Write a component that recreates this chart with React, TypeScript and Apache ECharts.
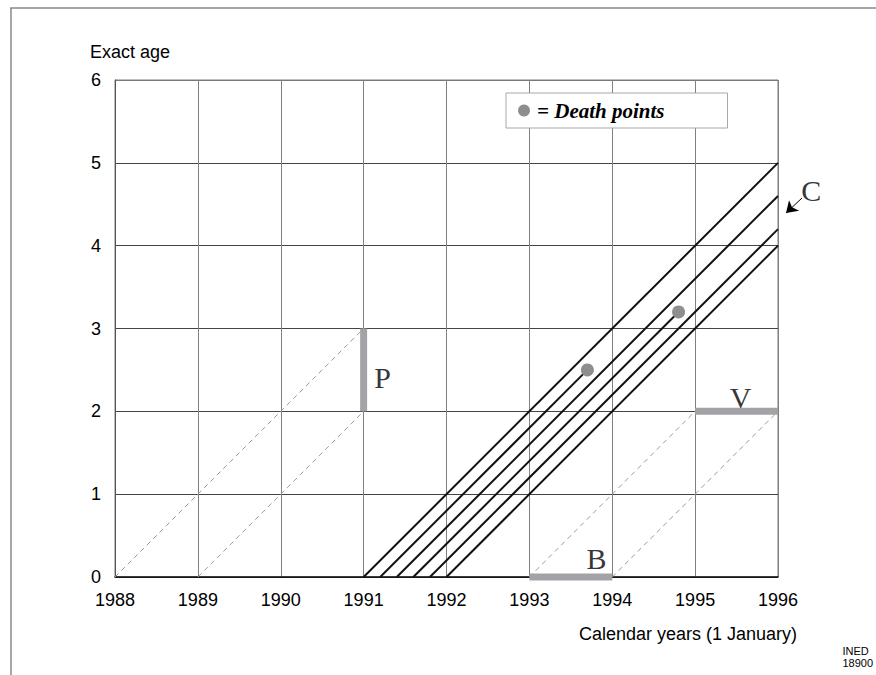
import React, { useEffect, useRef } from "react";
import * as echarts from "echarts";

// ---- data ----
const yearTicks = [1988, 1989, 1990, 1991, 1992, 1993, 1994, 1995, 1996];
const ageTicks = [0, 1, 2, 3, 4, 5, 6];

// cohort life lines: [start year at age 0] -> [end year, end age]
const cohortStarts = [1991, 1991.2, 1991.4, 1991.6, 1991.8, 1992];
const cohortEnds: [number, number][] = [
  [1996, 5],
  [1993.7, 2.5],
  [1996, 4.6],
  [1994.8, 3.2],
  [1996, 4.2],
  [1996, 4],
];
const deathPoints: [number, number][] = [
  [1993.7, 2.5],
  [1994.8, 3.2],
];
// dashed guide lines
const dashedLines: [number, number][][] = [
  [[1988, 0], [1991, 3]],
  [[1989, 0], [1991, 2]],
  [[1993, 0], [1995, 2]],
  [[1994, 0], [1996, 2]],
];
// highlighted segments
const segments: { name: string; pts: [number, number][] }[] = [
  { name: "P", pts: [[1991, 2], [1991, 3]] },
  { name: "B", pts: [[1993, 0], [1994, 0]] },
  { name: "V", pts: [[1995, 2], [1996, 2]] },
];
// letter annotations (data coordinates)
const letterLabels: { name: string; at: [number, number] }[] = [
  { name: "P", at: [1991.228, 2.41] },
  { name: "B", at: [1993.81, 0.22] },
  { name: "V", at: [1995.547, 2.17] },
  { name: "C", at: [1996.4, 4.67] },
];
const arrowC: [number, number][] = [
  [1996.29, 4.576],
  [1996.097, 4.394],
];

const SANS = "Liberation Sans, Arial, Helvetica, sans-serif";
const SERIF = "Liberation Serif, Times New Roman, serif";

export default function App() {
  const ref = useRef<HTMLDivElement>(null);
  useEffect(() => {
    if (!ref.current) return;
    const chart = echarts.init(ref.current, undefined, { renderer: "svg" });

    const series: any[] = [];
    dashedLines.forEach((l, i) => {
      series.push({
        type: "line",
        name: "dash" + i,
        data: l,
        symbol: "none",
        lineStyle: { color: "#9a9a9a", width: 1, type: [5, 4] },
        z: 2,
        silent: true,
      });
    });
    segments.forEach((s) => {
      series.push({
        type: "line",
        name: "seg" + s.name,
        data: s.pts,
        symbol: "none",
        clip: false,
        lineStyle: { color: "#a3a3a7", width: 7, cap: "butt" },
        z: 3,
        silent: true,
      });
    });
    cohortStarts.forEach((s, i) => {
      series.push({
        type: "line",
        name: "cohort" + i,
        data: [[s, 0], cohortEnds[i]],
        symbol: "none",
        lineStyle: { color: "#111", width: 2 },
        z: 4,
        silent: true,
      });
    });
    series.push({
      type: "scatter",
      name: "Death points",
      data: deathPoints,
      symbol: "circle",
      symbolSize: 13,
      itemStyle: { color: "#8e8e90", opacity: 1 },
      z: 5,
      silent: true,
    });
    series.push({
      type: "scatter",
      name: "labels",
      data: letterLabels.map((l) => ({ value: l.at, name: l.name })),
      symbolSize: 1,
      clip: false,
      itemStyle: { color: "rgba(0,0,0,0)" },
      label: {
        show: true,
        position: "inside",
        formatter: "{b}",
        fontFamily: SERIF,
        fontSize: 30,
        color: "#000",
      },
      z: 6,
      silent: true,
    });
    series.push({
      type: "lines",
      name: "arrow",
      coordinateSystem: "cartesian2d",
      clip: false,
      silent: true,
      symbol: ["none", "arrow"],
      symbolSize: 11,
      lineStyle: { color: "#000", width: 1, opacity: 1 },
      data: [{ coords: arrowC }],
      z: 6,
    });

    chart.setOption({
      animation: false,
      backgroundColor: "#fff",
      grid: {
        left: 115,
        right: 98,
        top: 80,
        bottom: 98,
        show: true,
        borderColor: "#7a7a7a",
        borderWidth: 1,
      },
      xAxis: {
        type: "value",
        min: yearTicks[0],
        max: yearTicks[yearTicks.length - 1],
        interval: 1,
        axisLine: { show: true, lineStyle: { color: "#111", width: 1.5 } },
        axisTick: { show: false },
        axisLabel: {
          color: "#000",
          fontFamily: SANS,
          fontSize: 18,
          margin: 14,
          formatter: (v: number) => String(v),
        },
        splitLine: { show: true, lineStyle: { color: "#808080", width: 1 } },
      },
      yAxis: {
        type: "value",
        min: ageTicks[0],
        max: ageTicks[ageTicks.length - 1],
        interval: 1,
        axisLine: { show: true, lineStyle: { color: "#555", width: 1 } },
        axisTick: { show: false },
        axisLabel: {
          color: "#000",
          fontFamily: SANS,
          fontSize: 18,
          margin: 14,
        },
        splitLine: {
          show: true,
          lineStyle: {
            color: ["#333", "#444", "#444", "#444", "#444", "#444", "#7a7a7a"],
            width: 1,
          },
        },
      },
      legend: {
        data: [{ name: "Death points", icon: "circle" }],
        left: 506,
        top: 93,
        orient: "horizontal",
        itemWidth: 12,
        itemHeight: 12,
        padding: [7, 63, 7, 12],
        borderColor: "#a8a8a8",
        borderWidth: 1,
        backgroundColor: "#fff",
        selectedMode: false,
        formatter: () => "{a|= Death points}",
        textStyle: {
          rich: {
            a: {
              fontFamily: SERIF,
              fontStyle: "italic",
              fontWeight: "bold",
              fontSize: 21,
              color: "#000",
              padding: [0, 0, 0, 2],
            },
          },
        },
      },
      graphic: [
        {
          type: "line",
          shape: { x1: 10, y1: 8, x2: 876, y2: 8 },
          style: { stroke: "#888", lineWidth: 1.5 },
        },
        {
          type: "line",
          shape: { x1: 11, y1: 8, x2: 11, y2: 675 },
          style: { stroke: "#888", lineWidth: 1.5 },
        },
        {
          type: "text",
          left: 90,
          top: 43,
          style: { text: "Exact age", font: `18px ${SANS}`, fill: "#000" },
        },
        {
          type: "text",
          right: 79,
          top: 625,
          style: {
            text: "Calendar years (1 January)",
            font: `18px ${SANS}`,
            fill: "#000",
          },
        },
        {
          type: "text",
          right: 3,
          top: 645,
          style: {
            text: "INED\n18900",
            font: `11px ${SANS}`,
            fill: "#000",
            align: "right",
            lineHeight: 12,
          },
        },
      ],
      series,
    });
    return () => chart.dispose();
  }, []);
  return (
    <div
      ref={ref}
      style={{ position: "fixed", left: 0, top: 0, width: 876, height: 675 }}
    />
  );
}
